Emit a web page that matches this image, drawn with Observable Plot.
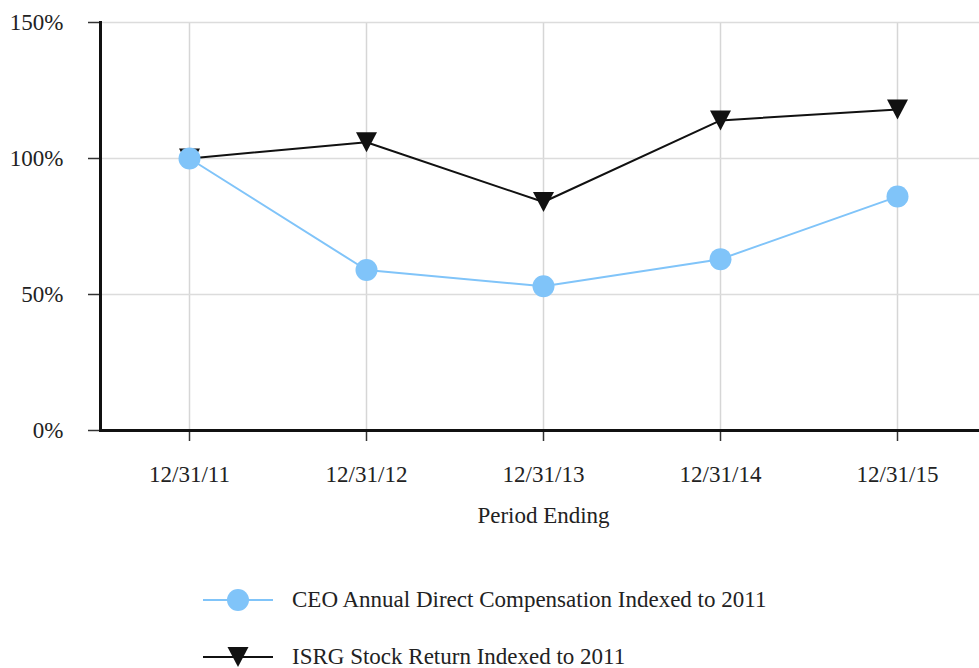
<!DOCTYPE html>
<html>
<head>
<meta charset="utf-8">
<script src="https://cdn.jsdelivr.net/npm/d3@7"></script>
<script src="https://cdn.jsdelivr.net/npm/@observablehq/plot@0.6"></script>
<style>
  html, body { margin: 0; padding: 0; background: #fff; overflow: hidden; }
  #wrap { width: 979px; overflow: hidden; font-family: "Liberation Serif", "Times New Roman", serif; }
  #wrap svg.plot, #wrap > svg { display: block; max-width: none !important; }
  .legend { position: relative; height: 128px; }
  .row { position: absolute; left: 203px; display: flex; align-items: center; font-size: 23px; color: #222; white-space: nowrap; }
  .row svg { margin-right: 19px; }
</style>
</head>
<body>
<div id="wrap"></div>
<script>
const periods = ["12/31/11", "12/31/12", "12/31/13", "12/31/14", "12/31/15"];
const ceoComp = [100, 59, 53, 63, 86];
const isrgReturn = [100, 106, 84, 114, 118];
const yTicks = [0, 50, 100, 150];
const seriesNames = ["CEO Annual Direct Compensation Indexed to 2011", "ISRG Stock Return Indexed to 2011"];
const axisTitle = "Period Ending";

const blue = "#80c4f9";
const black = "#111";
const serif = "'Liberation Serif', 'Times New Roman', serif";

const ceo = periods.map((p, i) => ({period: p, value: ceoComp[i]}));
const isrg = periods.map((p, i) => ({period: p, value: isrgReturn[i]}));

const triangleDown = {
  draw(context, size) {
    const r = Math.sqrt(size / Math.PI);
    context.moveTo(-1.05 * r, -r);
    context.lineTo(1.05 * r, -r);
    context.lineTo(0, r);
    context.closePath();
  }
};

const chart = Plot.plot({
  width: 986,
  height: 540,
  marginLeft: 100,
  marginRight: 0,
  marginTop: 22,
  marginBottom: 110,
  style: {fontFamily: serif, fontSize: "23px", color: "#222", background: "#fff", maxWidth: "none"},
  x: {type: "point", domain: periods, padding: 0.5, label: null},
  y: {domain: [0, 150], label: null},
  marks: [
    Plot.gridX(periods, {stroke: "#d6d6d6", strokeOpacity: 1, strokeWidth: 1.5}),
    Plot.gridY(yTicks.slice(1), {stroke: "#dcdcdc", strokeOpacity: 1, strokeWidth: 1.5}),
    Plot.axisY({ticks: yTicks, tickFormat: d => d + "%", tickSize: 12, tickPadding: 25, stroke: "#333", strokeWidth: 1.5, fontFamily: serif, fontSize: 23}),
    Plot.axisX({tickSize: 11, tickPadding: 24, stroke: "#333", strokeWidth: 1.5, fontFamily: serif, fontSize: 23}),
    Plot.frame({anchor: "left", stroke: "#111", strokeWidth: 3}),
    Plot.ruleY([0], {stroke: "#111", strokeWidth: 3}),
    Plot.text([{period: periods[2], t: axisTitle}], {x: "period", text: "t", frameAnchor: "bottom", dy: 85, lineAnchor: "middle", fill: "#222", fontFamily: serif, fontSize: 23}),
    Plot.line(isrg, {x: "period", y: "value", stroke: black, strokeWidth: 2}),
    Plot.dot(isrg, {x: "period", y: "value", symbol: triangleDown, r: 10, fill: black, stroke: "none"}),
    Plot.line(ceo, {x: "period", y: "value", stroke: blue, strokeWidth: 2}),
    Plot.dot(ceo, {x: "period", y: "value", r: 11, fill: blue, stroke: "none"})
  ]
});

const wrap = document.getElementById("wrap");
wrap.appendChild(chart);

const legend = document.createElement("div");
legend.className = "legend";
legend.innerHTML = `
  <div class="row" style="top:45px">
    <svg width="70" height="30"><line x1="0" x2="70" y1="15" y2="15" stroke="${blue}" stroke-width="2"/><circle cx="35" cy="15" r="11" fill="${blue}"/></svg>
    <span>${seriesNames[0]}</span>
  </div>
  <div class="row" style="top:102px">
    <svg width="70" height="30"><line x1="0" x2="70" y1="15" y2="15" stroke="${black}" stroke-width="2"/><path d="M24.5,5L45.5,5L35,25Z" fill="${black}"/></svg>
    <span>${seriesNames[1]}</span>
  </div>`;
wrap.appendChild(legend);
</script>
</body>
</html>
